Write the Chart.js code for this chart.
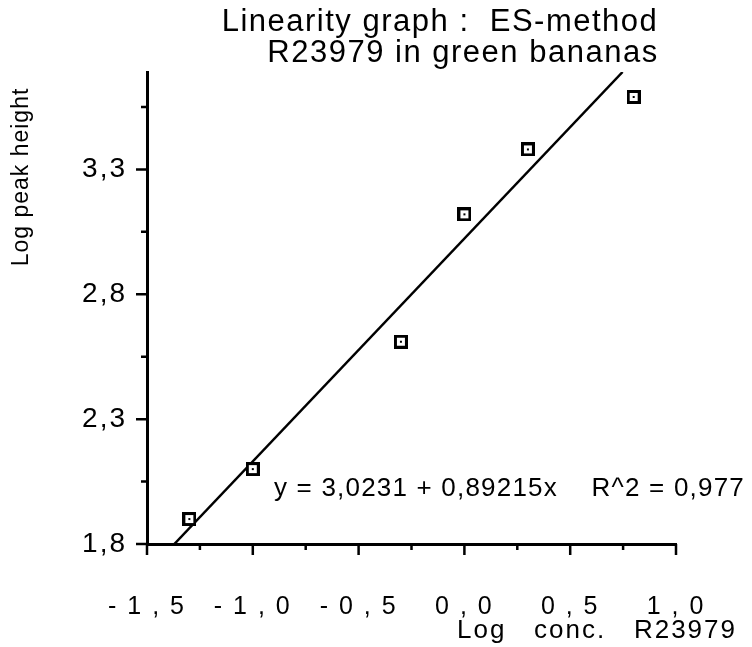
<!DOCTYPE html>
<html>
<head>
<meta charset="utf-8">
<script src="https://cdn.jsdelivr.net/npm/chart.js@4/dist/chart.umd.min.js"></script>
<style>
  body { margin: 0; background: #fff; }
  #wrap { width: 752px; height: 647px; }
</style>
</head>
<body>
<div id="wrap"><canvas id="linChart" width="752" height="647"></canvas></div>
<script>
// standards: log conc vs log peak height
var logConc = [-1.3, -1.0, -0.3, 0.0, 0.3, 0.8];
var logPeak = [1.90, 2.10, 2.61, 3.12, 3.38, 3.59];

// least squares fit
var fitIntercept = 3.0231;
var fitSlope = 0.89215;
var fitR2 = 0.977;

// axes
var xTicks = [-1.5, -1.0, -0.5, 0.0, 0.5, 1.0];
var yTicks = [1.8, 2.3, 2.8, 3.3];
var yTop = 3.69;

var titleLines = ['Linearity graph :  ES-method', 'R23979 in green bananas'];
var xTitle = 'Log   conc.   R23979';
var yTitle = 'Log peak height';

var FONT = '"Liberation Sans", Arial, sans-serif';
Chart.defaults.font.family = FONT;
Chart.defaults.font.size = 22;
Chart.defaults.color = '#000';

function comma(v, d) {
  return (d == null ? String(v) : v.toFixed(d)).replace('.', ',');
}
function isMajor(list, v) {
  return list.some(function (t) { return Math.abs(t - v) < 1e-6; });
}
// majors plus a minor tick halfway between them
function withMinors(list, top) {
  var out = [];
  var step = list[1] - list[0];
  for (var v = list[0]; v <= top + 1e-6; v += step / 2) out.push({ value: +v.toFixed(3) });
  return out;
}

// little square with a dot in the middle
function squareMarker() {
  var c = document.createElement('canvas');
  c.width = 14; c.height = 14;
  var g = c.getContext('2d');
  g.fillStyle = '#fff';
  g.fillRect(0, 0, 14, 14);
  g.strokeStyle = '#000';
  g.lineWidth = 3;
  g.strokeRect(1.5, 1.5, 11, 11);
  g.fillStyle = '#000';
  g.fillRect(6, 6, 2, 2);
  return c;
}

var points = logConc.map(function (x, i) { return { x: x, y: logPeak[i] }; });

// fitted line from the bottom of the y axis up to its top
var yBottom = yTicks[0];
var fitLine = [
  { x: (yBottom - fitIntercept) / fitSlope, y: yBottom },
  { x: (yTop - fitIntercept) / fitSlope, y: yTop }
];

var spacing = {
  id: 'spacing',
  beforeDraw: function (chart) { chart.ctx.letterSpacing = '2px'; }
};

var tickMarks = {
  id: 'tickMarks',
  afterDraw: function (chart) {
    var ctx = chart.ctx, xs = chart.scales.x, ys = chart.scales.y;
    ctx.save();
    ctx.strokeStyle = '#000';
    ctx.lineWidth = 2.5;
    ctx.beginPath();
    xs.ticks.forEach(function (t) {
      var px = xs.getPixelForValue(t.value);
      var len = isMajor(xTicks, t.value) ? 11 : 6;
      ctx.moveTo(px, xs.top);
      ctx.lineTo(px, xs.top + len);
    });
    ys.ticks.forEach(function (t) {
      var py = ys.getPixelForValue(t.value);
      var len = isMajor(yTicks, t.value) ? 11 : 6;
      ctx.moveTo(ys.right, py);
      ctx.lineTo(ys.right - len, py);
    });
    ctx.stroke();
    ctx.restore();
  }
};

var texts = {
  id: 'texts',
  afterDraw: function (chart) {
    var ctx = chart.ctx, xs = chart.scales.x, ys = chart.scales.y;
    ctx.save();
    ctx.fillStyle = '#000';

    ctx.letterSpacing = '1.5px';
    ctx.font = '31px ' + FONT;
    ctx.textAlign = 'center';
    ctx.textBaseline = 'alphabetic';
    ctx.fillText(titleLines[0], 440, 31);
    ctx.fillText(titleLines[1], 463, 62);

    ctx.letterSpacing = '2px';
    ctx.font = '26px ' + FONT;
    ctx.textAlign = 'right';
    ctx.fillText(xTitle, 737, 638);

    ctx.letterSpacing = '1px';
    ctx.font = '23px ' + FONT;
    ctx.save();
    ctx.translate(28, 177);
    ctx.rotate(-Math.PI / 2);
    ctx.textAlign = 'center';
    ctx.fillText(yTitle, 0, 0);
    ctx.restore();

    var eq = 'y = ' + comma(fitIntercept) + ' + ' + comma(fitSlope) + 'x    R^2 = ' + comma(fitR2);
    ctx.letterSpacing = '1.2px';
    ctx.font = '26px ' + FONT;
    ctx.textAlign = 'left';
    ctx.textBaseline = 'middle';
    ctx.fillText(eq, xs.getPixelForValue(-0.9), ys.getPixelForValue(2.02));
    ctx.restore();
  }
};

new Chart('linChart', {
  type: 'scatter',
  data: {
    datasets: [
      {
        data: points,
        pointStyle: squareMarker(),
        pointRadius: 7,
        order: 0
      },
      {
        data: fitLine,
        showLine: true,
        borderColor: '#000',
        borderWidth: 2.5,
        pointRadius: 0,
        order: 1
      }
    ]
  },
  options: {
    responsive: false,
    animation: false,
    layout: { padding: { top: 72, right: 76, bottom: 0, left: 0 } },
    plugins: {
      legend: { display: false },
      tooltip: { enabled: false },
      title: { display: false }
    },
    scales: {
      x: {
        type: 'linear',
        min: xTicks[0],
        max: xTicks[xTicks.length - 1],
        afterBuildTicks: function (s) { s.ticks = withMinors(xTicks, xTicks[xTicks.length - 1]); },
        afterFit: function (s) { s.height = 103; },
        grid: { display: true, drawOnChartArea: false, drawTicks: false },
        border: { display: true, color: '#000', width: 3 },
        ticks: {
          padding: 48,
          maxRotation: 0,
          autoSkip: false,
          font: { size: 25 },
          callback: function (v) {
            return isMajor(xTicks, v) ? comma(v, 1).split('').join(' ') : '';
          }
        }
      },
      y: {
        type: 'linear',
        min: yBottom,
        max: yTop,
        afterBuildTicks: function (s) { s.ticks = withMinors(yTicks, yTop); },
        afterFit: function (s) { s.width = 147; },
        grid: { display: true, drawOnChartArea: false, drawTicks: false },
        border: { display: true, color: '#000', width: 3 },
        ticks: {
          padding: 20,
          autoSkip: false,
          font: { size: 28 },
          callback: function (v) {
            return isMajor(yTicks, v) ? comma(v, 1) : '';
          }
        }
      }
    }
  },
  plugins: [spacing, tickMarks, texts]
});
</script>
</body>
</html>
